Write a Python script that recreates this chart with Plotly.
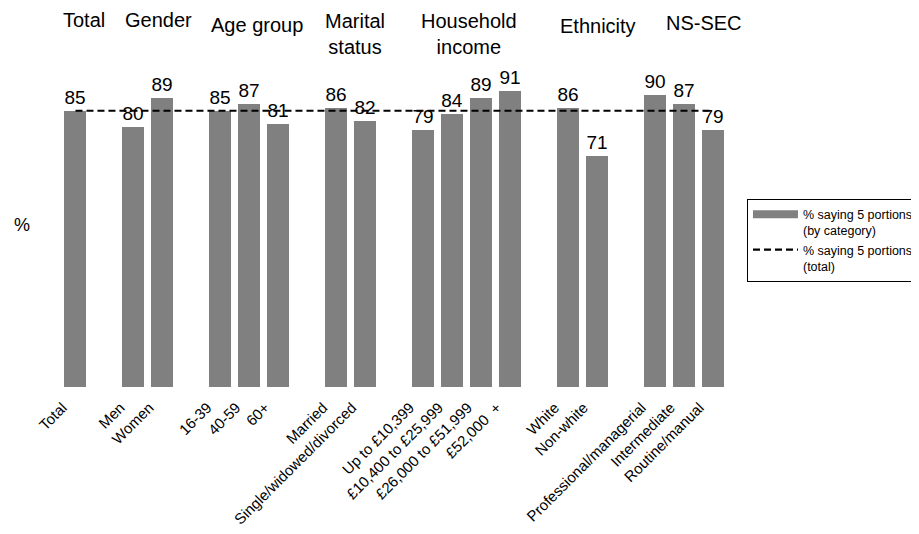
import plotly.graph_objects as go

groups = ["Total", "Gender", "Age group", "Marital<br>status", "Household<br>income", "Ethnicity", "NS-SEC"]
group_labels = [
    ["Total"],
    ["Men", "Women"],
    ["16-39", "40-59", "60+"],
    ["Married", "Single/widowed/divorced"],
    ["Up to £10,399", "£10,400 to £25,999", "£26,000 to £51,999", "£52,000\u00a0\u00a0+"],
    ["White", "Non-white"],
    ["Professional/managerial", "Intermediate", "Routine/manual"],
]
group_values = [
    [85],
    [80, 89],
    [85, 87, 81],
    [86, 82],
    [79, 84, 89, 91],
    [86, 71],
    [90, 87, 79],
]
total_value = 85

# header horizontal nudges (in category slots) and vertical paper positions
header_dx = [0.28, 0.36, 0.26, 0.17, 0.09, 0.55, 0.69]
header_y = [1.128, 1.128, 1.115, 1.086, 1.086, 1.112, 1.121]

xs, labels, values, centers = [], [], [], []
pos = 0
for labs, vals in zip(group_labels, group_values):
    start = pos
    for l, v in zip(labs, vals):
        xs.append(pos)
        labels.append(l)
        values.append(v)
        pos += 1
    centers.append((start + pos - 1) / 2)
    pos += 1  # gap slot
last = xs[-1]

font_family = "Liberation Sans, Arial, sans-serif"
bar_color = "#808080"

fig = go.Figure()
fig.add_trace(go.Bar(
    x=xs, y=values, width=0.76,
    marker=dict(color=bar_color, line=dict(width=0)),
    text=[str(v) for v in values], textposition="outside",
    constraintext="none",
    textfont=dict(size=19, color="#000000", family=font_family),
    cliponaxis=False, showlegend=False,
    name="% saying 5 portions<br>(by category)",
))
# legend stand-in for the bar series (wide swatch)
fig.add_trace(go.Scatter(
    x=[None], y=[None], mode="lines",
    line=dict(color=bar_color, width=8),
    name="% saying 5 portions<br>(by category)",
))
fig.add_trace(go.Scatter(
    x=[xs[0], last], y=[total_value, total_value], mode="lines",
    line=dict(color="#000000", width=2.2, dash="7px,4px"),
    name="% saying 5 portions<br>(total)",
))

annotations = []
for g, c, dx, gy in zip(groups, centers, header_dx, header_y):
    annotations.append(dict(
        x=c + dx, y=gy, xref="x", yref="paper", text=g, showarrow=False,
        xanchor="center", yanchor="middle",
        font=dict(size=20, color="#000000", family=font_family),
    ))
annotations.append(dict(
    x=-0.0586, y=0.498, xref="paper", yref="paper", text="%", showarrow=False,
    xanchor="center", yanchor="middle",
    font=dict(size=18, color="#000000", family=font_family),
))

fig.update_layout(
    width=911, height=526,
    margin=dict(l=53, r=192, t=54, b=147, autoexpand=False),
    paper_bgcolor="white", plot_bgcolor="white",
    bargap=0,
    showlegend=True,
    legend=dict(
        x=1.030, y=0.580, xanchor="left", yanchor="top",
        font=dict(size=12.5, color="#000000", family=font_family),
        bordercolor="#000000", borderwidth=1, bgcolor="white",
        tracegroupgap=0, itemwidth=45, valign="top",
    ),
    xaxis=dict(
        range=[-0.5, last + 0.5],
        tickmode="array", tickvals=xs, ticktext=labels,
        tickangle=-45, showgrid=False, zeroline=False, showline=False,
        ticks="", tickfont=dict(size=15, color="#000000", family=font_family),
        ticklabelshift=-13, ticklabelstandoff=8,
        automargin=False,
    ),
    yaxis=dict(
        range=[0, 100], showticklabels=False, showgrid=False,
        zeroline=False, showline=False, ticks="", automargin=False,
    ),
    annotations=annotations,
    font=dict(family=font_family),
)

fig.write_html("out.html")
